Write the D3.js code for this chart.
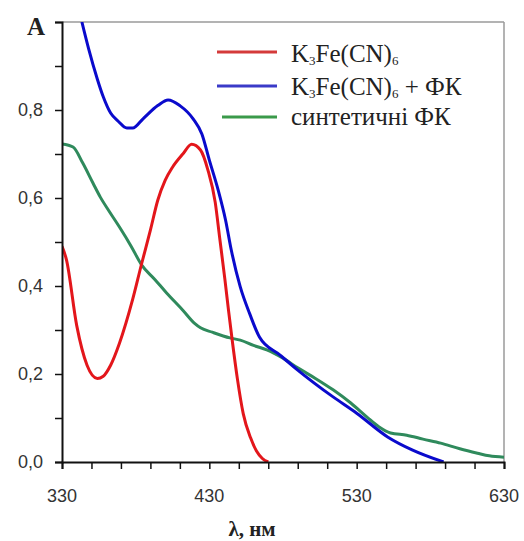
<!DOCTYPE html>
<html>
<head>
<meta charset="utf-8">
<script src="https://cdn.jsdelivr.net/npm/d3@7"></script>
<style>
  body { margin: 0; background: #fff; }
  svg text { fill: #222; }
</style>
</head>
<body>
<svg id="chart"></svg>
<script>
// wavelength (nm) / absorbance pairs
var redX = [330, 333, 340, 347, 354, 358, 363, 369, 378, 384, 390, 395, 400, 405, 412, 418, 424, 429, 434, 437, 440.6, 443, 445.4, 449, 453, 458, 462, 466, 470];
var redY = [0.49, 0.46, 0.31, 0.22, 0.19, 0.195, 0.22, 0.27, 0.37, 0.45, 0.527, 0.595, 0.64, 0.67, 0.70, 0.722, 0.709, 0.664, 0.59, 0.51, 0.414, 0.345, 0.28, 0.19, 0.11, 0.055, 0.025, 0.008, 0.0];

var blueX = [343.5, 348, 354, 358, 363, 368, 374, 378, 385, 395, 402, 410, 419, 425, 430, 436, 441, 445, 451, 457.5, 464, 478, 490, 514, 530, 551, 568, 589];
var blueY = [1.0, 0.94, 0.87, 0.83, 0.793, 0.775, 0.759, 0.759, 0.78, 0.81, 0.823, 0.81, 0.78, 0.745, 0.686, 0.618, 0.55, 0.48, 0.398, 0.336, 0.284, 0.243, 0.209, 0.148, 0.111, 0.057, 0.027, 0.0];

var greenX = [330, 337.5, 344, 351, 356, 362, 369, 377, 384, 393, 401, 412, 420, 424, 432, 444, 451, 460, 469, 480, 490, 502, 514, 526, 537, 545, 553, 564, 575, 587, 600, 612, 620, 630];
var greenY = [0.723, 0.716, 0.68, 0.634, 0.602, 0.57, 0.534, 0.49, 0.448, 0.415, 0.384, 0.345, 0.315, 0.305, 0.295, 0.282, 0.277, 0.265, 0.255, 0.236, 0.214, 0.19, 0.164, 0.134, 0.102, 0.08, 0.066, 0.061, 0.052, 0.043, 0.03, 0.02, 0.014, 0.011];

var xTickLabels = [330, 430, 530, 630];
var yTickLabels = [0.0, 0.2, 0.4, 0.6, 0.8];

var serif = "'Liberation Serif', 'Times New Roman', serif";
var sans = "'Liberation Sans', Arial, sans-serif";

var width = 524, height = 541;
var svg = d3.select("#chart").attr("width", width).attr("height", height);

// plot box edges (not "top", that one belongs to window)
var pLeft = 62, pRight = 504, pTop = 22, pBottom = 462;

var x = d3.scaleLinear().domain([330, 630]).range([pLeft, pRight]);
var y = d3.scaleLinear().domain([0, 1.0]).range([pBottom, pTop]);

// frame: grey top/right
svg.append("line").attr("x1", pLeft).attr("x2", pRight).attr("y1", pTop).attr("y2", pTop)
  .style("stroke", "#9a9a9a").style("stroke-width", 1.5);
svg.append("line").attr("x1", pRight).attr("x2", pRight).attr("y1", pTop).attr("y2", pBottom)
  .style("stroke", "#9a9a9a").style("stroke-width", 1.5);

// curves
svg.append("clipPath").attr("id", "plotclip").append("rect")
  .attr("x", pLeft).attr("y", pTop).attr("width", pRight - pLeft).attr("height", pBottom - pTop);

var line = d3.line()
  .x(function(d) { return x(d[0]); })
  .y(function(d) { return y(d[1]); })
  .curve(d3.curveMonotoneX);

var series = [
  { xs: greenX, ys: greenY, color: "#2f8a5c" },
  { xs: redX, ys: redY, color: "#e3161b" },
  { xs: blueX, ys: blueY, color: "#0a0acc" }
];

series.forEach(function(s) {
  var pts = s.xs.map(function(v, i) { return [v, s.ys[i]]; });
  svg.append("path").datum(pts)
    .attr("d", line)
    .attr("clip-path", "url(#plotclip)")
    .style("fill", "none")
    .style("stroke", s.color)
    .style("stroke-width", 3)
    .style("stroke-linejoin", "round");
});

// x axis
var xAxis = d3.axisBottom(x).tickValues(d3.range(330, 631, 20)).tickSize(7).tickFormat("");
var gx = svg.append("g").attr("transform", "translate(0," + pBottom + ")").call(xAxis);
gx.select(".domain").style("stroke", "#111").style("stroke-width", 2);
gx.selectAll(".tick line").style("stroke", "#111").style("stroke-width", 1.5);

svg.selectAll(".xlab").data(xTickLabels).enter().append("text")
  .attr("class", "xlab")
  .attr("x", function(d) { return x(d); })
  .attr("y", 502)
  .attr("text-anchor", "middle")
  .style("font-family", sans)
  .style("font-size", "18px")
  .style("fill", "#333")
  .text(function(d) { return d; });

// y axis
var yAxis = d3.axisLeft(y).tickValues(d3.range(0, 1.01, 0.1)).tickSize(7).tickFormat("");
var gy = svg.append("g").attr("transform", "translate(" + pLeft + ",0)").call(yAxis);
gy.select(".domain").style("stroke", "#111").style("stroke-width", 2);
gy.selectAll(".tick line").style("stroke", "#111").style("stroke-width", 1.5);

svg.selectAll(".ylab").data(yTickLabels).enter().append("text")
  .attr("class", "ylab")
  .attr("x", 43)
  .attr("y", function(d) { return y(d) + 6; })
  .attr("text-anchor", "end")
  .style("font-family", sans)
  .style("font-size", "18px")
  .style("fill", "#333")
  .text(function(d) { return d.toFixed(1).replace(".", ","); });

// axis titles
svg.append("text").attr("x", 27).attr("y", 35)
  .style("font-family", serif)
  .style("font-size", "25px").style("font-weight", "bold")
  .text("A");
svg.append("text").attr("x", 252).attr("y", 536).attr("text-anchor", "middle")
  .style("font-family", serif)
  .style("font-size", "21px").style("font-weight", "bold")
  .text("λ, нм");

// legend
var legend = [
  { y: 52, x1: 217, color: "#d43a3a" },
  { y: 86, x1: 217, color: "#3a3ac8" },
  { y: 117, x1: 222, color: "#3a9a4a" }
];
legend.forEach(function(l) {
  svg.append("line").attr("x1", l.x1).attr("x2", 277).attr("y1", l.y).attr("y2", l.y)
    .style("stroke", l.color).style("stroke-width", 3);
});

function legendText(yy) {
  return svg.append("text").attr("x", 291).attr("y", yy)
    .style("font-family", serif)
    .style("font-size", "25px");
}
var t1 = legendText(62);
t1.append("tspan").text("K");
t1.append("tspan").attr("dy", 3).style("font-size", "13px").text("3");
t1.append("tspan").attr("dy", -3).text("Fe(CN)");
t1.append("tspan").attr("dy", 3).style("font-size", "13px").text("6");

var t2 = legendText(95);
t2.append("tspan").text("K");
t2.append("tspan").attr("dy", 3).style("font-size", "13px").text("3");
t2.append("tspan").attr("dy", -3).text("Fe(CN)");
t2.append("tspan").attr("dy", 3).style("font-size", "13px").text("6");
t2.append("tspan").attr("dy", -3).text(" + ФК");

legendText(125).text("синтетичні ФК");
</script>
</body>
</html>
